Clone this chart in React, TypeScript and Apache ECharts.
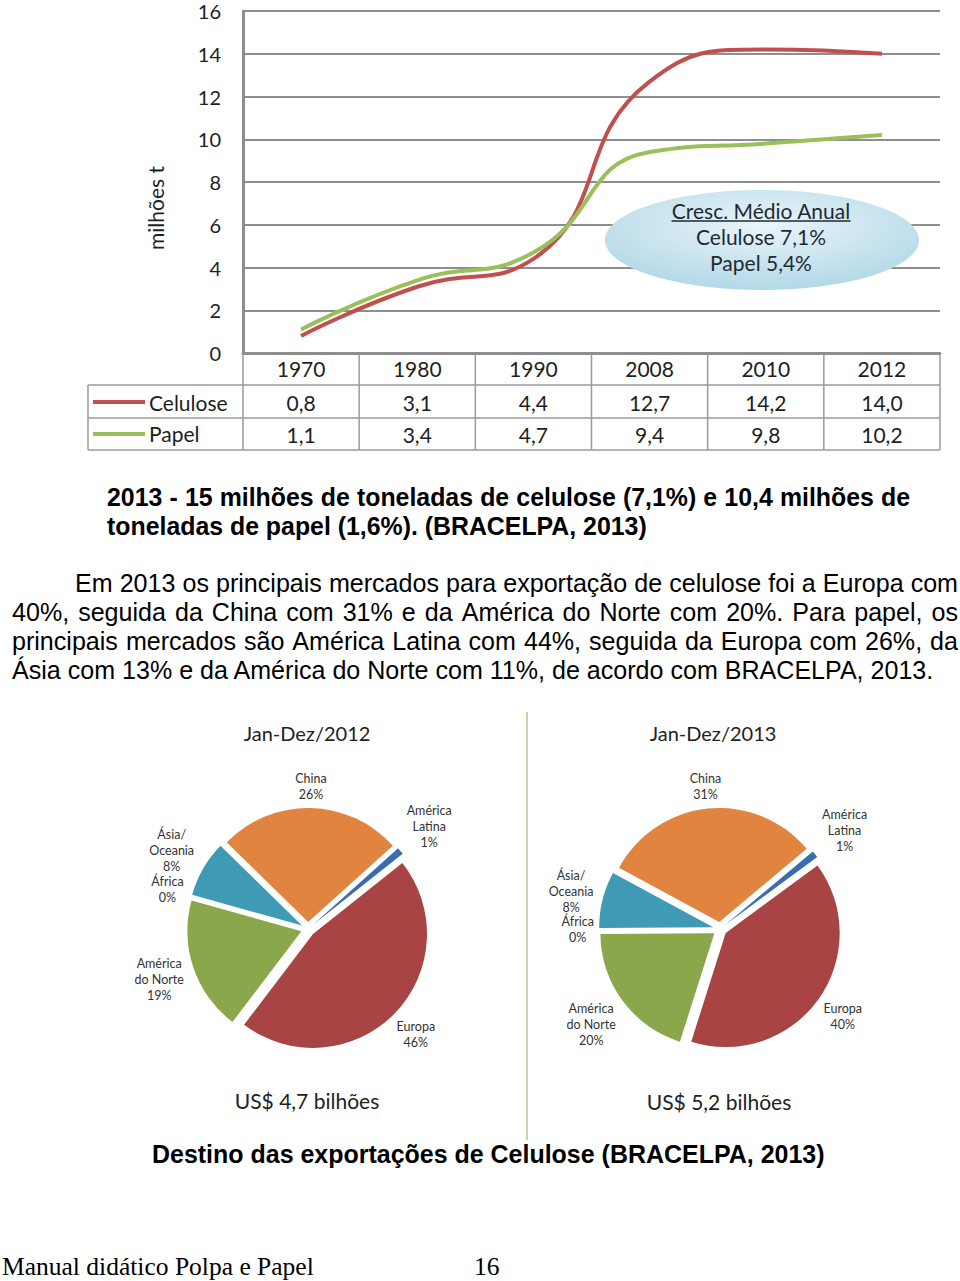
import React, { useEffect, useRef } from "react";
import * as echarts from "echarts";

// ---------- data ----------
const years = ["1970", "1980", "1990", "2008", "2010", "2012"];
const celulose = [0.8, 3.1, 4.4, 12.7, 14.2, 14.0];
const papel = [1.1, 3.4, 4.7, 9.4, 9.8, 10.2];
const yMin = 0;
const yMax = 16;
const yStep = 2;

const growthTitle = "Cresc. Médio Anual";
const growthLines = ["Celulose 7,1%", "Papel 5,4%"];

const pieNames = ["América\nLatina", "Europa", "América\ndo Norte", "África", "Ásia/\nOceania", "China"];
const pie2012 = [1, 46, 19, 0, 8, 26];
const pie2013 = [1, 40, 20, 0, 8, 31];
const pieTitles = ["Jan-Dez/2012", "Jan-Dez/2013"];
const pieTotals = ["US$ 4,7 bilhões", "US$ 5,2 bilhões"];

const boldLines = [
  "2013 - 15 milhões de toneladas de celulose (7,1%) e 10,4 milhões de",
  "toneladas de papel (1,6%). (BRACELPA, 2013)",
];
const paraLines = [
  "Em 2013 os principais mercados para exportação de celulose foi a Europa com",
  "40%, seguida da China com 31% e da América do Norte com 20%. Para papel, os",
  "principais mercados são América Latina com 44%, seguida da Europa com 26%, da",
  "Ásia com 13% e da América do Norte com 11%, de acordo com BRACELPA, 2013.",
];
const caption = "Destino das exportações de Celulose (BRACELPA, 2013)";
const footerLeft = "Manual didático Polpa e Papel";
const footerPage = "16";

// ---------- styles ----------
const RED = "#c0504d";
const GREEN = "#9bbf5a";
const GRID = "#8e8e8e";
const pieColors = ["#3a6cb0", "#a94444", "#8aa84b", "#7a5c9c", "#3f9ab6", "#e0843f"];
const CAL = "Lato";
const ARIAL = "Liberation Sans";
const SERIF = "Liberation Serif";

const GRID_L = 243, GRID_T = 11, GRID_W = 697, GRID_H = 342;

let ctx: CanvasRenderingContext2D | null = null;
function measure(text: string, size: number, family: string, weight = "normal") {
  if (!ctx) ctx = document.createElement("canvas").getContext("2d");
  if (!ctx) return text.length * size * 0.5;
  ctx.font = `${weight} ${size}px "${family}"`;
  return ctx.measureText(text).width;
}
function fitSize(text: string, width: number, family: string, weight = "normal") {
  return (20 * width) / measure(text, 20, family, weight);
}
function txt(x: number, y: number, text: string, size: number, family: string, weight = "normal", align = "left", fill = "#000", extra: any = {}) {
  const { style: extraStyle, ...rest } = extra;
  return {
    type: "text", x, y, z: 20, silent: true,
    style: { text, fontSize: size, fontFamily: family, fontWeight: weight, fill, align, verticalAlign: "middle", ...(extraStyle || {}) },
    ...rest,
  };
}
function justify(line: string, x0: number, x1: number, y: number, size: number, family: string, weight = "normal") {
  const words = line.split(" ");
  const widths = words.map((w) => measure(w, size, family, weight));
  const total = widths.reduce((a, b) => a + b, 0);
  const gap = (x1 - x0 - total) / (words.length - 1);
  let x = x0;
  return words.map((w, i) => {
    const el = txt(x, y, w, size, family, weight);
    x += widths[i] + gap;
    return el;
  });
}

function pieSeries(values: number[], cx: number, cy: number, startAngle: number) {
  return {
    type: "pie",
    center: [cx, cy],
    radius: 114,
    startAngle,
    clockwise: true,
    selectedMode: "multiple",
    selectedOffset: 7,
    emphasis: { disabled: true },
    itemStyle: { borderWidth: 0 },
    label: { show: false },
    labelLine: { show: false },
    data: pieNames.map((n, i) => ({ name: n, value: values[i], selected: true, itemStyle: { color: pieColors[i] } })),
  };
}

// labels placed outside each slice's end (like "outside end"), along the slice's mid angle
const LABEL_FS = 12.5;
const LABEL_LH = 16;
function pieLabels(values: number[], cx: number, cy: number, startAngle: number) {
  const total = values.reduce((a, b) => a + b, 0);
  const startN = 90 - startAngle;
  const R0 = 126;
  let cum = 0;
  return values.map((v, i) => {
    const theta = ((startN + ((cum + v / 2) / total) * 360) * Math.PI) / 180;
    cum += v;
    const text = `${pieNames[i]}\n${v}%`;
    const lines = text.split("\n");
    const w = Math.max(...lines.map((l) => measure(l, LABEL_FS, CAL)));
    const h = lines.length * LABEL_LH;
    const d = R0 + (w / 2) * Math.abs(Math.sin(theta)) + (h / 2) * Math.abs(Math.cos(theta));
    return txt(cx + d * Math.sin(theta), cy - d * Math.cos(theta), text, LABEL_FS, CAL, "normal", "center", "#333", {
      style: { lineHeight: LABEL_LH },
    });
  });
}

export default function App() {
  const ref = useRef<HTMLDivElement>(null);
  useEffect(() => {
    if (!ref.current) return;
    const chart = echarts.init(ref.current, undefined, { renderer: "svg" });
    const axisFont = { fontSize: 21, fontFamily: CAL, color: "#1e1e1e" };
    const P1 = { cx: 308, cy: 929, start: 42 };
    const P2 = { cx: 720, cy: 929, start: 40 };
    chart.setOption({
      animation: false,
      backgroundColor: "#ffffff",
      grid: { left: GRID_L, top: GRID_T, width: GRID_W, height: GRID_H },
      xAxis: {
        type: "category",
        data: years,
        boundaryGap: true,
        axisLine: { lineStyle: { color: GRID, width: 3 } },
        axisTick: { show: false },
        axisLabel: { margin: 5, ...axisFont },
        splitLine: { show: false },
      },
      yAxis: {
        type: "value",
        min: yMin,
        max: yMax,
        interval: yStep,
        axisLine: { show: true, lineStyle: { color: GRID, width: 3 } },
        axisTick: { show: false },
        axisLabel: { margin: 22, ...axisFont, fontSize: 20 },
        splitLine: { lineStyle: { color: GRID, width: 2 } },
      },
      series: [
        { name: "Celulose", type: "line", data: celulose, smooth: 0.5, symbol: "none", lineStyle: { color: RED, width: 4 }, z: 3 },
        { name: "Papel", type: "line", data: papel, smooth: 0.5, symbol: "none", lineStyle: { color: GREEN, width: 4 }, z: 3 },
        pieSeries(pie2012, P1.cx, P1.cy, P1.start),
        pieSeries(pie2013, P2.cx, P2.cy, P2.start),
      ],
    });

    // table geometry from the axis scale
    const colW = GRID_W / years.length;
    const centers = years.map((_, i) => chart.convertToPixel({ xAxisIndex: 0 }, i) as number);
    const bottom = GRID_T + GRID_H;
    const rowY = [385, 418, 450];
    const lc = "#9a9a9a";
    const g: any[] = [];
    const ln = (x1: number, y1: number, x2: number, y2: number, color = lc, w = 1.5, z = 10) =>
      g.push({ type: "line", silent: true, z, shape: { x1, y1, x2, y2 }, style: { stroke: color, lineWidth: w } });
    rowY.forEach((y) => ln(88, y, GRID_L + GRID_W, y));
    ln(88, rowY[0], 88, rowY[2]);
    for (let k = 0; k <= years.length; k++) {
      const x = GRID_L + k * colW;
      ln(x, bottom + 1, x, rowY[2]);
    }
    // legend keys
    ln(93, 402, 145, 402, RED, 4);
    ln(93, 434, 145, 434, GREEN, 4);
    g.push(txt(149, 402, "Celulose", 21, CAL, "normal", "left", "#1e1e1e"));
    g.push(txt(149, 433, "Papel", 21, CAL, "normal", "left", "#1e1e1e"));
    const fmt = (v: number) => v.toFixed(1).replace(".", ",");
    centers.forEach((cx, i) => {
      g.push(txt(cx, 402, fmt(celulose[i]), 21, CAL, "normal", "center", "#1e1e1e"));
      g.push(txt(cx, 434, fmt(papel[i]), 21, CAL, "normal", "center", "#1e1e1e"));
    });
    // y axis name
    g.push(txt(155, 208, "milhões t", 21, CAL, "normal", "center", "#1e1e1e", { rotation: Math.PI / 2 }));

    // growth bubble
    g.push({
      type: "ellipse", silent: true, z: 8,
      shape: { cx: 762, cy: 240, rx: 157, ry: 50 },
      style: {
        fill: new echarts.graphic.RadialGradient(0.5, 0.35, 0.75, [
          { offset: 0, color: "#eaf5f9" },
          { offset: 1, color: "#a9d4e4" },
        ]),
      },
    });
    const gs = 21;
    g.push(txt(761, 210, growthTitle, gs, CAL, "normal", "center", "#1f2a36"));
    const tw = measure(growthTitle, gs, CAL);
    ln(761 - tw / 2, 221, 761 + tw / 2, 221, "#1f2a36", 1.3, 21);
    g.push(txt(761, 236, growthLines[0], gs, CAL, "normal", "center", "#1f2a36"));
    g.push(txt(761, 262, growthLines[1], gs, CAL, "normal", "center", "#1f2a36"));

    // bold lines
    const bfs = fitSize(boldLines[1], 540, ARIAL, "bold");
    g.push(...justify(boldLines[0], 107, 910, 497, bfs, ARIAL, "bold"));
    g.push(txt(107, 526, boldLines[1], bfs, ARIAL, "bold"));

    // paragraph
    const pfs = fitSize(paraLines[3], 923, ARIAL);
    g.push(...justify(paraLines[0], 75, 958, 583, pfs, ARIAL));
    g.push(...justify(paraLines[1], 12, 958, 612, pfs, ARIAL));
    g.push(...justify(paraLines[2], 12, 958, 641, pfs, ARIAL));
    g.push(txt(12, 670, paraLines[3], pfs, ARIAL));

    // pie titles, totals and labels
    g.push(txt(307, 733, pieTitles[0], 20, CAL, "normal", "center", "#222"));
    g.push(txt(713, 733, pieTitles[1], 20, CAL, "normal", "center", "#222"));
    g.push(txt(307, 1100, pieTotals[0], 21, CAL, "normal", "center", "#222"));
    g.push(txt(719, 1101, pieTotals[1], 21, CAL, "normal", "center", "#222"));
    g.push(...pieLabels(pie2012, P1.cx, P1.cy, P1.start));
    g.push(...pieLabels(pie2013, P2.cx, P2.cy, P2.start));
    ln(527, 712, 527, 1140, "#c8d7a2", 2);

    // caption & footer
    const cfs = fitSize(caption, 673, ARIAL, "bold");
    g.push(txt(152, 1154, caption, cfs, ARIAL, "bold"));
    const ffs = fitSize(footerLeft, 312, SERIF);
    g.push(txt(2, 1266, footerLeft, ffs, SERIF));
    g.push(txt(474, 1266, footerPage, ffs, SERIF));

    chart.setOption({ graphic: g });
    return () => chart.dispose();
  }, []);
  return <div ref={ref} style={{ position: "absolute", left: 0, top: 0, width: 960, height: 1281 }} />;
}
